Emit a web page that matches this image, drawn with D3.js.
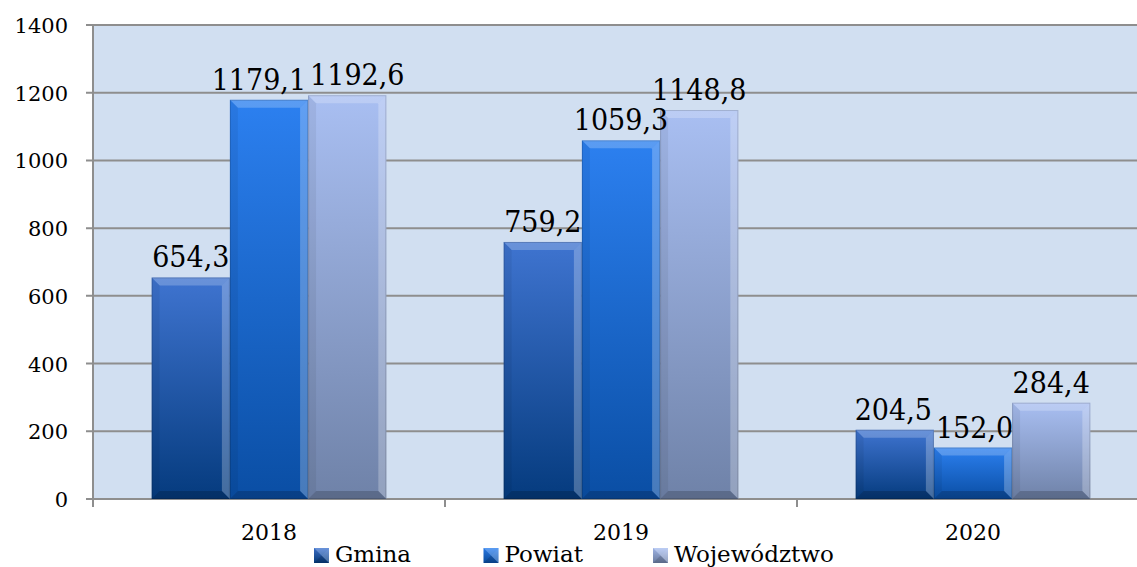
<!DOCTYPE html>
<html lang="pl">
<head>
<meta charset="utf-8">
<title>Gmina / Powiat / Województwo</title>
<script src="https://cdnjs.cloudflare.com/ajax/libs/d3/7.8.5/d3.min.js"></script>
<style>
  body { margin: 0; background: #fff; }
  svg text { font-family: "DejaVu Serif", serif; fill: #000; }
  svg text.val { font-family: "DejaVu Serif Condensed", "DejaVu Serif", serif; font-stretch: condensed; }
</style>
</head>
<body>
<svg id="chart" width="1137" height="567"></svg>
<script>
// data
var years = ["2018", "2019", "2020"];
var series = ["Gmina", "Powiat", "Województwo"];
var gmina = [654.3, 759.2, 204.5];
var powiat = [1179.1, 1059.3, 152.0];
var wojewodztwo = [1192.6, 1148.8, 284.4];
var yTicks = [0, 200, 400, 600, 800, 1000, 1200, 1400];

var values = [gmina, powiat, wojewodztwo];

// colours per series: top of gradient, bottom of gradient
var colors = [
  { top: "#3f74d0", bot: "#053b7e" },
  { top: "#2c80f0", bot: "#0a4ea4" },
  { top: "#a9bff2", bot: "#6f82a8" }
];

var svg = d3.select("#chart");
var plotL = 93, plotR = 1149, plotT = 25, plotB = 499;

var x0 = d3.scaleBand().domain(years).range([plotL, plotR]).paddingInner(0).paddingOuter(0);
var x1 = d3.scaleBand().domain(series).range([0, x0.bandwidth()]).paddingInner(0).paddingOuter(0.75);
var y = d3.scaleLinear().domain([0, 1400]).range([plotB, plotT]);

// gradients
var defs = svg.append("defs");
colors.forEach(function(c, i) {
  var g = defs.append("linearGradient").attr("id", "grad" + i)
    .attr("x1", 0).attr("y1", 0).attr("x2", 0).attr("y2", 1);
  g.append("stop").attr("offset", "0%").attr("stop-color", c.top);
  g.append("stop").attr("offset", "100%").attr("stop-color", c.bot);
});

// plot background
svg.append("rect")
  .attr("x", plotL).attr("y", plotT)
  .attr("width", plotR - plotL).attr("height", plotB - plotT)
  .attr("fill", "#d1dff1");

// gridlines
svg.append("g").selectAll("line")
  .data(yTicks)
  .enter().append("line")
  .attr("x1", plotL - 7).attr("x2", plotR)
  .attr("y1", d => y(d)).attr("y2", d => y(d))
  .attr("stroke", "#8e8e8e").attr("stroke-width", 2);

// axis line
svg.append("line").attr("x1", plotL).attr("x2", plotL).attr("y1", plotT).attr("y2", plotB)
  .attr("stroke", "#8e8e8e").attr("stroke-width", 2);

// y tick labels
svg.append("g").selectAll("text")
  .data(yTicks)
  .enter().append("text")
  .attr("x", plotL - 25).attr("y", d => y(d) + 8)
  .attr("text-anchor", "end")
  .attr("font-size", 21)
  .text(d => d);

// category ticks
var catEdges = years.map(d => x0(d)).concat([x0(years[years.length - 1]) + x0.bandwidth()]);
svg.append("g").selectAll("line")
  .data(catEdges)
  .enter().append("line")
  .attr("x1", d => d).attr("x2", d => d)
  .attr("y1", plotB).attr("y2", plotB + 8)
  .attr("stroke", "#8e8e8e").attr("stroke-width", 2);

svg.append("g").selectAll("text")
  .data(years)
  .enter().append("text")
  .attr("x", d => x0(d) + x0.bandwidth() / 2)
  .attr("y", 540)
  .attr("text-anchor", "middle")
  .attr("font-size", 22)
  .text(d => d);

// bars
var bars = [];
years.forEach(function(yr, i) {
  series.forEach(function(s, j) {
    bars.push({ year: yr, s: s, si: j, v: values[j][i] });
  });
});

function bevel(g, x, yy, w, h, b) {
  b = Math.min(b, h / 2, w / 2);
  var x2 = x + w, y2 = yy + h;
  // top
  g.append("polygon").attr("points", [[x, yy], [x2, yy], [x2 - b, yy + b], [x + b, yy + b]].join(" "))
    .attr("fill", "#fff").attr("opacity", 0.22);
  // left
  g.append("polygon").attr("points", [[x, yy], [x + b, yy + b], [x + b, y2 - b], [x, y2]].join(" "))
    .attr("fill", "#000").attr("opacity", 0.06);
  // right
  g.append("polygon").attr("points", [[x2, yy], [x2, y2], [x2 - b, y2 - b], [x2 - b, yy + b]].join(" "))
    .attr("fill", "#fff").attr("opacity", 0.25);
  // bottom
  g.append("polygon").attr("points", [[x, y2], [x + b, y2 - b], [x2 - b, y2 - b], [x2, y2]].join(" "))
    .attr("fill", "#000").attr("opacity", 0.18);
}

var barG = svg.append("g");
bars.forEach(function(d) {
  var bx = x0(d.year) + x1(d.s);
  var bw = x1.bandwidth();
  var by = y(d.v);
  var bh = y(0) - by;
  var g = barG.append("g");
  g.append("rect")
    .attr("x", bx).attr("y", by).attr("width", bw).attr("height", bh)
    .attr("fill", "url(#grad" + d.si + ")");
  bevel(g, bx, by, bw, bh, 8);
  g.append("rect")
    .attr("x", bx + 0.5).attr("y", by + 0.5).attr("width", bw - 1).attr("height", bh - 1)
    .attr("fill", "none").attr("stroke", "#000").attr("stroke-opacity", 0.15);
});

// value labels
var labels = svg.append("g").selectAll("text")
  .data(bars)
  .enter().append("text")
  .attr("class", "val")
  .attr("x", d => x0(d.year) + x1(d.s) + x1.bandwidth() / 2)
  .attr("y", d => y(d.v) - 10)
  .attr("text-anchor", "middle")
  .attr("font-size", 30)
  .text(d => d3.format(".1f")(d.v).replace(".", ","));

// push apart neighbouring labels in a group when they collide
labels.each(function(d) { d.bb = this.getBBox(); d.dx = 0; });
years.forEach(function(yr) {
  var grp = labels.filter(d => d.year === yr).nodes();
  for (var k = 0; k < grp.length - 1; k++) {
    var a = d3.select(grp[k]).datum(), b = d3.select(grp[k + 1]).datum();
    var vert = Math.abs(a.bb.y - b.bb.y) < a.bb.height * 0.8;
    var overlap = (a.bb.x + a.bb.width + a.dx + 4) - (b.bb.x + b.dx);
    if (vert && overlap > 0) { a.dx -= overlap / 2; b.dx += overlap / 2; }
  }
});
labels.attr("transform", d => "translate(" + d.dx + ",0)");

// legend
var legend = svg.append("g").selectAll("g")
  .data(series)
  .enter().append("g")
  .attr("transform", (d, i) => "translate(" + (314 + i * 169.5) + ",548)");
legend.each(function(d, i) {
  var g = d3.select(this);
  g.append("rect").attr("width", 15).attr("height", 15).attr("fill", "url(#grad" + i + ")");
  bevel(g, 0, 0, 15, 15, 7.5);
});
legend.append("text")
  .attr("x", 21).attr("y", 14)
  .attr("font-size", 23)
  .text(d => d);
</script>
</body>
</html>
